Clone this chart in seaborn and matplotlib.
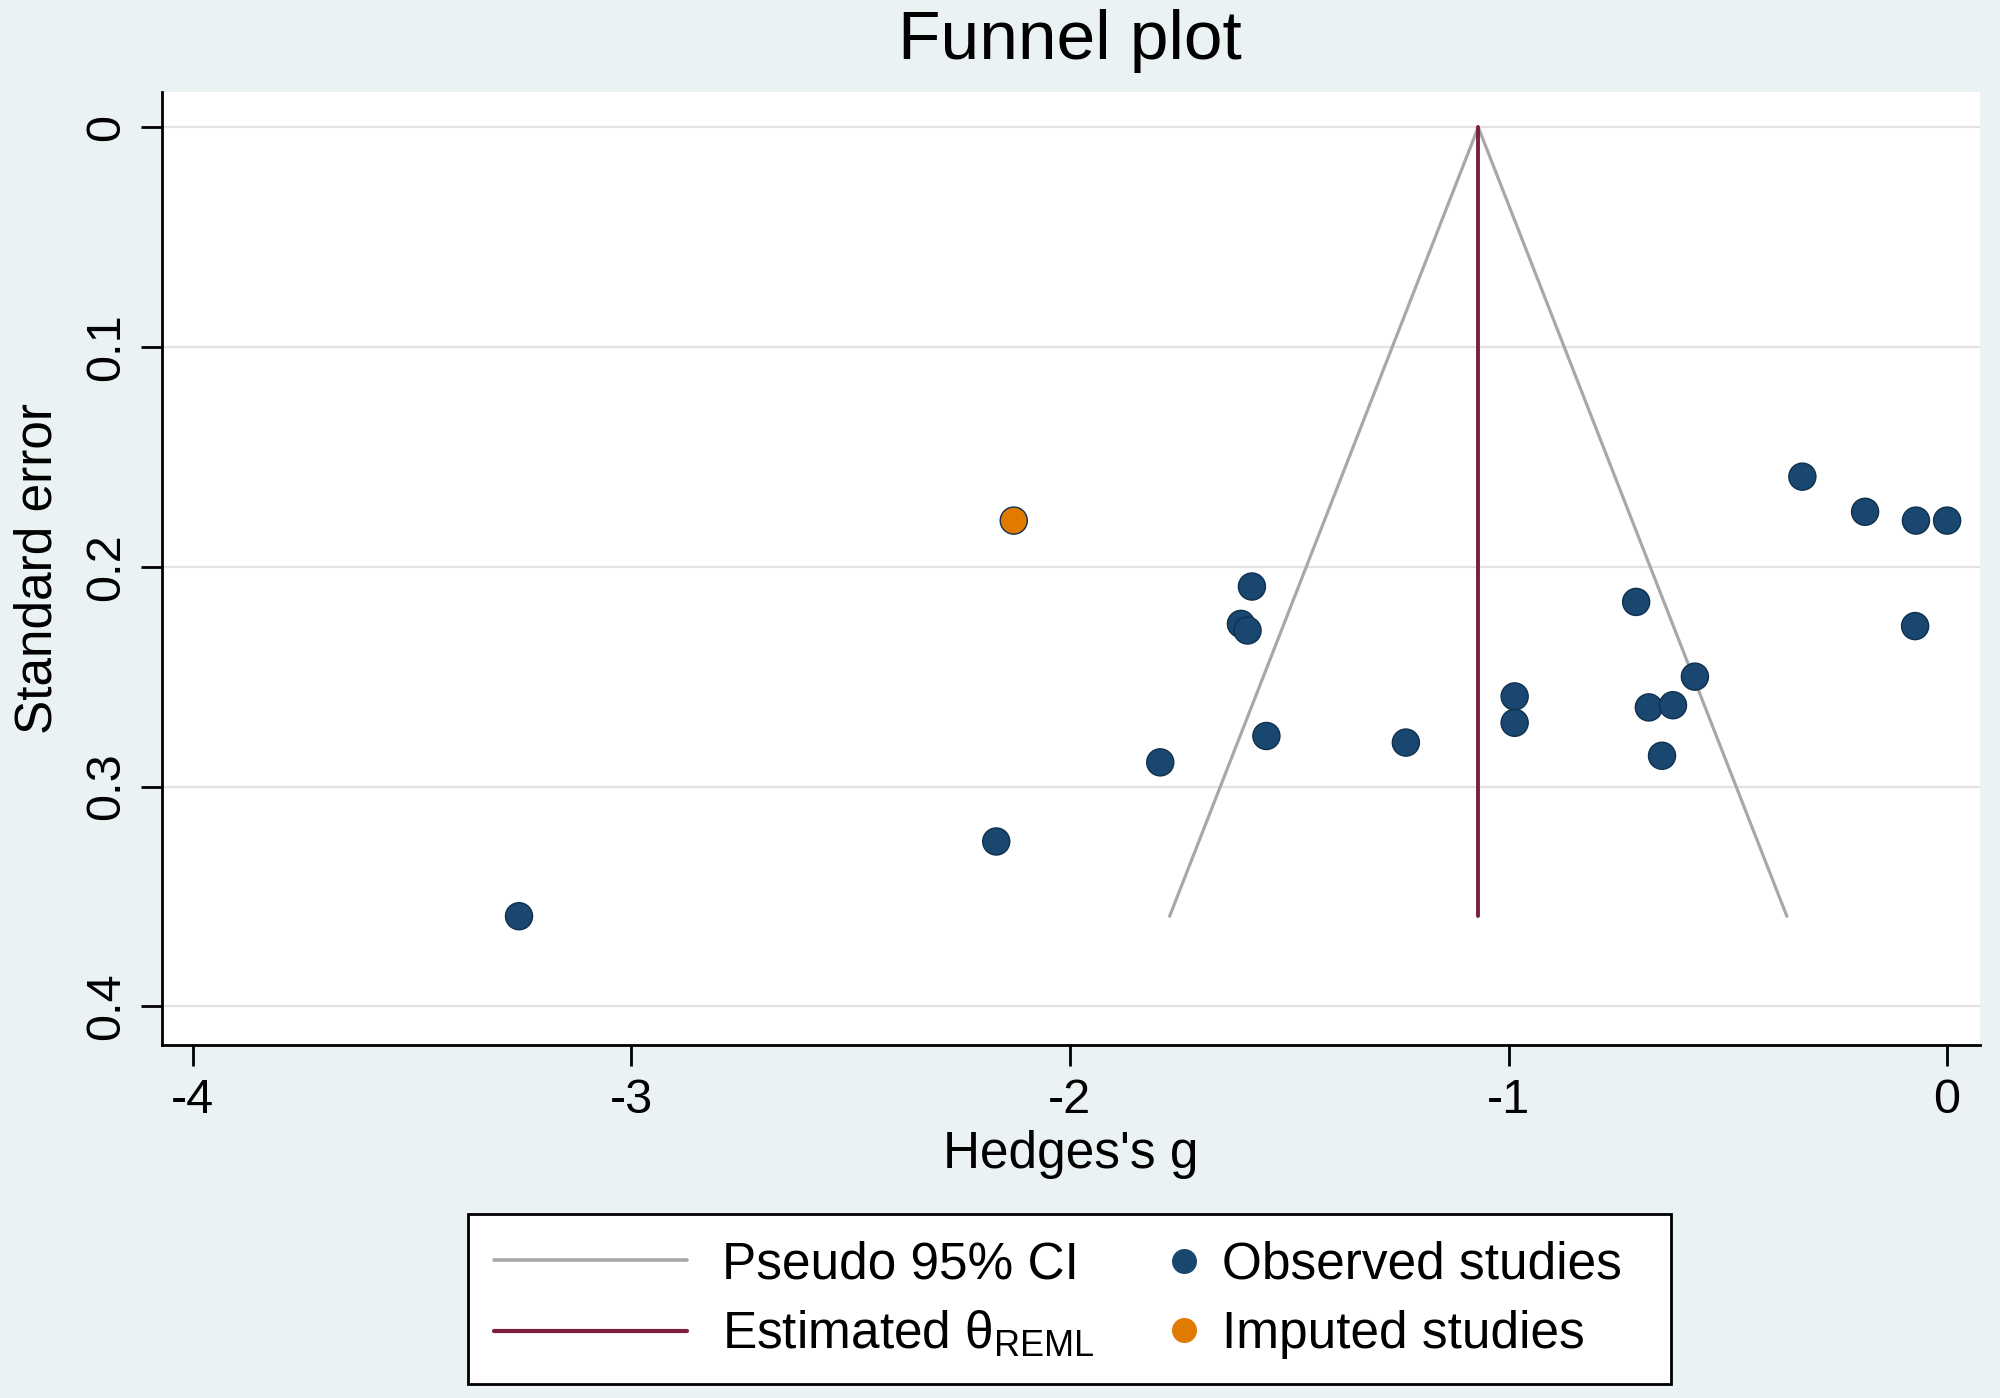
import numpy as np
import pandas as pd
import matplotlib
matplotlib.use("Agg")
import matplotlib.pyplot as plt
import seaborn as sns
from matplotlib.lines import Line2D
from matplotlib.patches import Rectangle

# values
obs_g = [-0.330, -0.187, -0.071, 0.000, -1.585, -1.610, -1.595, -0.709, -0.073, -0.575,
         -0.986, -0.986, -0.680, -0.625, -0.650, -1.552, -1.234, -1.794, -2.168, -3.256]
obs_se = [0.159, 0.175, 0.179, 0.179, 0.209, 0.226, 0.229, 0.216, 0.227, 0.250,
          0.259, 0.271, 0.264, 0.263, 0.286, 0.277, 0.280, 0.289, 0.325, 0.359]
imp_g = [-2.128]
imp_se = [0.179]
theta = -1.069          # estimated theta (REML)
se_max = 0.359          # funnel drawn down to largest SE
x_ticks = [-4, -3, -2, -1, 0]
y_ticks = [0, 0.1, 0.2, 0.3, 0.4]
y_tick_labels = ["0", "0.1", "0.2", "0.3", "0.4"]

navy = "#1A476F"
orange = "#E07B00"
maroon = "#7B1F3A"
grey = "#A8A8A8"
bg = "#EAF2F3"

sns.set_style("white")
plt.rcParams["font.family"] = ["Liberation Sans", "DejaVu Sans"]
plt.rcParams["axes.unicode_minus"] = False
plt.rcParams["mathtext.default"] = "regular"
for key in ["text.color", "axes.labelcolor", "xtick.color", "ytick.color"]:
    plt.rcParams[key] = "black"

df = pd.DataFrame({
    "g": obs_g + imp_g,
    "se": obs_se + imp_se,
    "kind": ["Observed studies"] * len(obs_g) + ["Imputed studies"] * len(imp_g),
})

fig = plt.figure(figsize=(20, 13.98), dpi=100, facecolor=bg)
ax = fig.add_axes([0.081, 0.2525, 0.909, 0.682])
ax.set_facecolor("white")

# funnel (pseudo 95% CI) and estimate line
se_line = np.array([0.0, se_max])
ax.plot(theta - 1.96 * se_line, se_line, color=grey, lw=2.3, zorder=2)
ax.plot(theta + 1.96 * se_line, se_line, color=grey, lw=2.3, zorder=2)
ax.plot([theta, theta], se_line, color=maroon, lw=2.8, zorder=2)

sns.scatterplot(data=df, x="g", y="se", hue="kind",
                palette={"Observed studies": navy, "Imputed studies": orange},
                s=380, edgecolor="#10304F", linewidth=1, legend=False, ax=ax, zorder=3)

ax.set_xlim(-4.07, 0.075)
ax.set_ylim(0.4176, -0.0162)
ax.set_xticks(x_ticks)
ax.set_xticklabels([str(t) for t in x_ticks])
ax.set_yticks(y_ticks)
ax.set_yticklabels(y_tick_labels, rotation=90, va="center")
ax.grid(axis="y", color="#E2E2E2", lw=1.6)
ax.grid(axis="x", visible=False)
ax.set_axisbelow(True)

for side in ["top", "right"]:
    ax.spines[side].set_visible(False)
for side in ["left", "bottom"]:
    ax.spines[side].set_color("black")
    ax.spines[side].set_linewidth(2)
ax.tick_params(axis="both", direction="out", length=15, width=2, color="black",
               labelsize=35, pad=9, left=True, bottom=True)

ax.set_xlabel("Hedges's g", fontsize=37, va="center")
ax.xaxis.set_label_coords(0.5, -0.1144)
ax.set_ylabel("Standard error", fontsize=37, va="center")
ax.yaxis.set_label_coords(-0.0682, 0.5)

fig.text(0.535, 0.971, "Funnel plot", fontsize=50, ha="center", va="center")

# legend box: lines column and markers column
fig.patches.append(Rectangle((0.234, 0.0100), 0.6015, 0.1216, transform=fig.transFigure,
                             facecolor="white", edgecolor="black", lw=2, zorder=1))
line_handles = [Line2D([], [], color=grey, lw=2.6), Line2D([], [], color=maroon, lw=3)]
leg1 = fig.legend(line_handles, ["Pseudo 95% CI", "Estimated θ$_{REML}$"],
                  loc="center left", bbox_to_anchor=(0.247, 0.0701), frameon=False,
                  fontsize=37, handlelength=3.75, handletextpad=0.68, borderpad=0,
                  borderaxespad=0, labelspacing=0.4)
mark_handles = [Line2D([], [], ls="", marker="o", ms=17, color=navy),
                Line2D([], [], ls="", marker="o", ms=17, color=orange)]
leg2 = fig.legend(mark_handles, ["Observed studies", "Imputed studies"],
                  loc="center left", bbox_to_anchor=(0.579, 0.0701), frameon=False,
                  fontsize=37, handlelength=1.0, handletextpad=0.25, borderpad=0,
                  borderaxespad=0, labelspacing=0.4)

fig.savefig("out.png", dpi=100, facecolor=bg)
